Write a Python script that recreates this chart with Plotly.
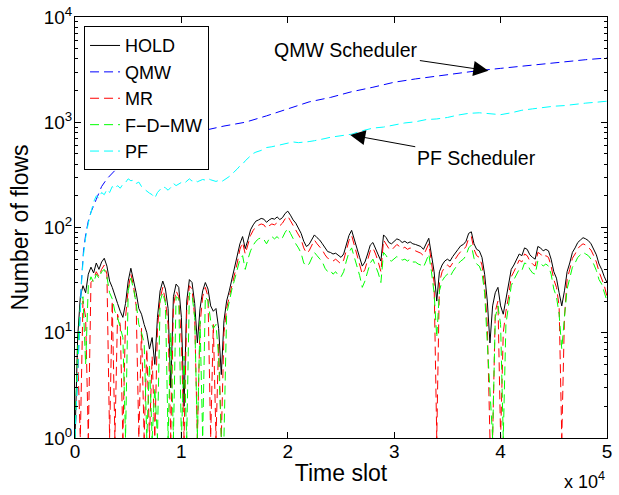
import plotly.graph_objects as go

# ---------------- data ----------------
time_slot = list(range(0, 50001, 250))

hold = [
    1, 9, 22, 28, 24, 36, 42, 37, 46, 40, 47, 51, 43, 31, 27, 22, 19, 16, 14, 19,
    31, 41, 32, 24, 17, 15, 12, 10, 7, 9, 5, 14, 25, 31, 26, 17, 3, 22, 29, 27,
    14, 2, 20, 32, 30, 19, 8, 17, 25, 30, 26, 18, 16, 17, 11, 4, 13, 20, 25, 32,
    40, 52, 70, 82, 63, 76, 95, 106, 115, 118, 122, 120, 112, 118, 122, 120, 126, 119, 124, 136,
    143, 131, 118, 110, 98, 88, 74, 66, 69, 77, 85, 80, 76, 70, 64, 59, 58, 56, 57, 54,
    52, 56, 70, 84, 94, 78, 66, 52, 43, 47, 56, 68, 72, 64, 55, 48, 85, 80, 72, 70,
    74, 78, 76, 72, 74, 71, 73, 70, 69, 67, 66, 62, 70, 79, 55, 38, 20, 38, 44, 48,
    50, 48, 53, 58, 62, 67, 69, 74, 88, 91, 70, 62, 60, 52, 36, 20, 8, 18, 24, 27,
    18, 15, 21, 28, 40, 44, 50, 56, 54, 64, 62, 55, 52, 50, 66, 64, 60, 62, 60, 50,
    38, 33, 24, 18, 25, 38, 46, 58, 64, 72, 76, 80, 78, 75, 70, 62, 55, 45, 40, 34,
    30,
]

mr = [
    1, 6, 1, 20, 14, 1, 30, 32, 38, 34, 40, 44, 36, 1, 20, 1, 15, 12, 1, 14,
    26, 36, 28, 18, 1, 11, 1, 7, 1, 6, 1, 11, 21, 27, 20, 12, 1, 18, 25, 22,
    8, 1, 16, 28, 26, 14, 1, 12, 22, 27, 22, 1, 12, 1, 8, 1, 10, 17, 22, 28,
    36, 46, 62, 72, 56, 68, 84, 94, 102, 105, 108, 106, 98, 104, 108, 106, 111, 104, 110, 121,
    128, 116, 104, 96, 86, 77, 64, 57, 60, 68, 76, 70, 66, 61, 55, 51, 50, 48, 50, 47,
    45, 49, 62, 75, 84, 68, 57, 45, 36, 40, 49, 60, 64, 56, 47, 38, 76, 70, 63, 61,
    65, 69, 66, 63, 65, 62, 64, 61, 60, 58, 57, 54, 61, 70, 47, 30, 1, 30, 38, 42,
    44, 42, 46, 51, 55, 59, 61, 66, 79, 82, 62, 54, 52, 44, 28, 12, 1, 1, 16, 20,
    1, 10, 16, 22, 34, 38, 43, 49, 47, 56, 54, 48, 45, 43, 58, 56, 52, 54, 52, 43,
    32, 27, 18, 1, 14, 32, 40, 51, 56, 63, 67, 70, 68, 65, 61, 54, 47, 38, 33, 28,
    22,
]

fdmw = [
    1, 7, 18, 22, 5, 28, 34, 30, 36, 33, 38, 40, 34, 24, 21, 16, 14, 11, 9, 1,
    25, 33, 26, 19, 12, 10, 8, 1, 5, 1, 3, 1, 20, 24, 19, 1, 10, 1, 22, 21,
    1, 6, 1, 24, 23, 14, 1, 13, 1, 22, 20, 13, 11, 12, 6, 1, 1, 15, 20, 26,
    32, 40, 50, 54, 40, 50, 60, 68, 74, 78, 80, 77, 70, 78, 82, 78, 82, 76, 80, 90,
    98, 88, 78, 70, 64, 57, 46, 43, 45, 52, 58, 54, 50, 47, 41, 38, 39, 36, 38, 35,
    34, 38, 48, 58, 64, 52, 44, 35, 27, 31, 38, 46, 50, 43, 37, 30, 58, 54, 49, 48,
    51, 53, 51, 49, 50, 48, 50, 47, 47, 45, 44, 42, 48, 56, 38, 24, 9, 25, 31, 34,
    36, 34, 38, 42, 45, 48, 50, 54, 64, 68, 51, 45, 43, 37, 24, 8, 3, 1, 14, 18,
    12, 1, 12, 19, 28, 32, 36, 40, 39, 46, 45, 40, 37, 36, 48, 46, 43, 45, 43, 36,
    26, 22, 15, 7, 14, 26, 33, 42, 46, 52, 55, 58, 56, 54, 50, 45, 39, 32, 29, 24,
    20,
]

qmw_t = [0, 200, 400, 600, 800, 1000, 1250, 1500, 2000, 2500, 3000, 3500, 4000, 4500,
         5000, 6000, 8000, 10000, 12000, 14000, 16000, 18000, 20000, 22000, 24000,
         26000, 28000, 30000, 32000, 34000, 36000, 38000, 40000, 42000, 44000, 46000,
         48000, 50000]
qmw = [1, 3, 9, 30, 60, 85, 115, 140, 185, 245, 290, 325, 370, 405,
       440, 500, 620, 730, 830, 920, 1000, 1150, 1330, 1560, 1720,
       1950, 2150, 2400, 2580, 2750, 2950, 3100, 3250, 3420, 3600, 3780,
       3930, 4080]

pf_t = [0, 200, 400, 600, 800, 1000, 1250, 1500, 1750, 2000, 2250, 2500, 2750, 3000,
        3250, 3500, 3750, 4000, 4250, 4500, 4750, 5000, 5250, 5500, 5750, 6000,
        6250, 6500, 6750, 7000, 7250, 7500, 7750, 8000, 8250, 8500, 8750, 9000,
        9250, 9500, 9750, 10000, 10250, 10500, 10750, 11000, 11250, 11500, 11750,
        12000, 12250, 12500, 12750, 13000, 13250, 13500, 13750, 14000, 14250, 14500,
        14750, 15000, 15250, 15500, 15750, 16000, 16250, 16500, 16750, 17000, 17500,
        18000, 18500, 19000, 19500, 20000, 20500, 21000, 21500, 22000, 22500, 23000,
        23500, 24000, 24500, 25000, 25500, 26000, 27000, 28000, 29000, 30000, 31000,
        32000, 33000, 34000, 35000, 36000, 37000, 38000, 39000, 40000, 41000, 42000,
        43000, 44000, 45000, 46000, 47000, 48000, 49000, 50000]
pf = [1, 3, 9, 28, 55, 80, 110, 140, 175, 200, 190, 215, 205, 230,
      215, 245, 232, 250, 236, 258, 268, 290, 278, 282, 262, 270,
      245, 232, 220, 212, 205, 190, 215, 230, 245, 238, 226, 240,
      262, 250, 258, 268, 262, 278, 290, 276, 284, 272, 278,
      286, 282, 292, 284, 280, 274, 280, 272, 282, 292, 305,
      322, 338, 360, 385, 400, 430, 450, 480, 505, 520, 540,
      575, 585, 600, 625, 640, 650, 640, 645, 655, 668, 680,
      700, 720, 730, 740, 752, 770, 830, 880, 900, 940, 985,
      1010, 1060, 1075, 1110, 1170, 1215, 1230, 1200, 1180, 1230, 1300,
      1340, 1385, 1420, 1440, 1490, 1520, 1550, 1585]

x_tickvals = [0, 10000, 20000, 30000, 40000, 50000]
x_ticktext = ["0", "1", "2", "3", "4", "5"]
y_tickvals = [1, 10, 100, 1000, 10000]
y_ticktext = ["10<sup>0</sup>", "10<sup>1</sup>", "10<sup>2</sup>", "10<sup>3</sup>", "10<sup>4</sup>"]
y_minor = [m * d for d in (1, 10, 100, 1000) for m in range(2, 10)]

# ---------------- figure ----------------
FONT = "Liberation Sans, Arial, Helvetica, sans-serif"
DASH = "9px,5px"

fig = go.Figure()
fig.add_trace(go.Scatter(x=time_slot, y=hold, name="HOLD", mode="lines",
                         line=dict(color="#000000", width=1)))
fig.add_trace(go.Scatter(x=qmw_t, y=qmw, name="QMW", mode="lines",
                         line=dict(color="#0000ff", width=1, dash=DASH)))
fig.add_trace(go.Scatter(x=time_slot, y=mr, name="MR", mode="lines",
                         line=dict(color="#ff0000", width=1, dash=DASH)))
fig.add_trace(go.Scatter(x=time_slot, y=fdmw, name="F\u2212D\u2212MW", mode="lines",
                         line=dict(color="#00ff00", width=1, dash=DASH)))
fig.add_trace(go.Scatter(x=pf_t, y=pf, name="PF", mode="lines",
                         line=dict(color="#00ffff", width=1, dash=DASH)))

fig.update_layout(
    width=619, height=495,
    margin=dict(l=75, r=12, t=17, b=57, autoexpand=False),
    paper_bgcolor="white", plot_bgcolor="white",
    font=dict(family=FONT, size=19, color="black"),
    showlegend=True,
    legend=dict(x=0.017, y=0.978, xanchor="left", yanchor="top",
                bgcolor="white", bordercolor="black", borderwidth=1,
                font=dict(size=18), traceorder="normal"),
    xaxis=dict(range=[0, 50000], tickmode="array", tickvals=x_tickvals, ticktext=x_ticktext,
               ticks="inside", ticklen=6, tickcolor="black", showline=True, linecolor="black",
               linewidth=1, mirror="ticks", showgrid=False, zeroline=False, automargin=False,
               ticklabelstandoff=-4, ticklabeloverflow="allow",
               title=dict(text="Time slot", standoff=4)),
    yaxis=dict(type="log", range=[0, 4], tickmode="array", tickvals=y_tickvals, ticktext=y_ticktext,
               ticks="inside", ticklen=6, tickcolor="black", showline=True, linecolor="black",
               linewidth=1, mirror="ticks", showgrid=False, zeroline=False, automargin=False,
               ticklabelstandoff=-2, ticklabeloverflow="allow",
               minor=dict(tickmode="array", tickvals=y_minor, ticks="inside", ticklen=3,
                          tickcolor="black", showgrid=False),
               title=dict(text="Number of flows", standoff=8)),
    annotations=[
        dict(x=38850, y=3.49, xref="x", yref="y", text="QMW Scheduler", showarrow=True,
             ax=-142, ay=-21, arrowhead=2, arrowsize=3, arrowwidth=1, arrowcolor="black",
             font=dict(size=19.5)),
        dict(x=25870, y=2.88, xref="x", yref="y", text="PF Scheduler", showarrow=True,
             ax=126, ay=23, arrowhead=2, arrowsize=3, arrowwidth=1, arrowcolor="black",
             font=dict(size=19.5)),
        dict(x=1.0, y=-0.133, xref="paper", yref="paper", text="x 10<sup>4</sup>",
             showarrow=False, xanchor="right", yanchor="bottom", font=dict(size=18)),
    ],
)

# remove the browser's default 8px page margin so the 619x495 figure fills the window exactly
fig.write_html("out.html",
               config={"displayModeBar": False},
               post_script="document.body.style.margin='0px';document.body.style.overflow='hidden';")
